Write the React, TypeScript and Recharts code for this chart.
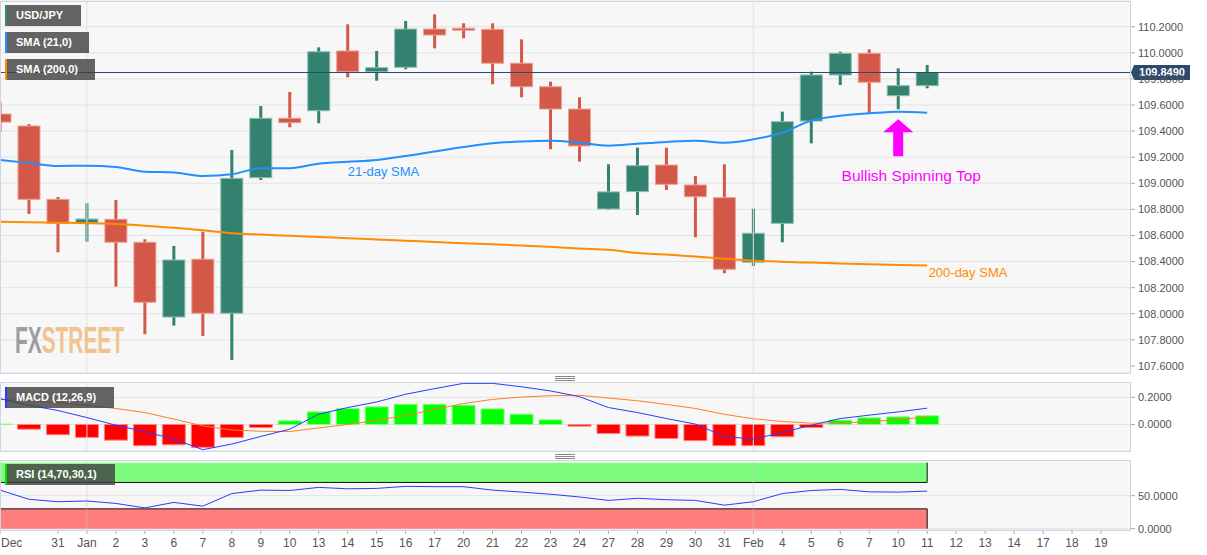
import React from 'react';
import {
  ComposedChart,
  Bar,
  Line,
  XAxis,
  YAxis,
  CartesianGrid,
  ReferenceLine,
  ReferenceDot,
  ReferenceArea,
  Cell,
} from 'recharts';

// trading days shown on the chart
const days = [
  'Dec 27', 'Dec 30', 'Dec 31', 'Jan 1', 'Jan 2', 'Jan 3', 'Jan 6', 'Jan 7', 'Jan 8', 'Jan 9', 'Jan 10',
  'Jan 13', 'Jan 14', 'Jan 15', 'Jan 16', 'Jan 17', 'Jan 20', 'Jan 21', 'Jan 22', 'Jan 23', 'Jan 24',
  'Jan 27', 'Jan 28', 'Jan 29', 'Jan 30', 'Jan 31', 'Feb 3', 'Feb 4', 'Feb 5', 'Feb 6', 'Feb 7', 'Feb 10', 'Feb 11',
];

// x-axis slot labels, including the empty future days
const slotLabels = [
  'Dec', '30', '31', 'Jan', '2', '3', '6', '7', '8', '9', '10', '13', '14', '15', '16', '17', '20', '21', '22',
  '23', '24', '27', '28', '29', '30', '31', 'Feb', '4', '5', '6', '7', '10', '11', '12', '13', '14', '17', '18', '19',
];
const shownTicks = [0, 2, 3, 4, 5, 6, 7, 8, 9, 10, 11, 12, 13, 14, 15, 16, 17, 18, 19, 20, 21, 22, 23, 24, 25, 26, 27, 28, 29, 30, 31, 32, 33, 34, 35, 36, 37, 38];

const open = [109.531, 109.439, 108.877, 108.698, 108.724, 108.548, 107.975, 108.418, 108.004, 109.043, 109.498, 109.556, 110.014, 109.855, 109.889, 110.182, 110.188, 110.18, 109.92, 109.74, 109.569, 108.803, 108.936, 109.14, 108.987, 108.89, 108.395, 108.693, 109.477, 109.83, 109.996, 109.671, 109.748];
const high = [109.623, 109.454, 108.895, 108.847, 108.872, 108.571, 108.52, 108.629, 109.255, 109.592, 109.7, 110.042, 110.218, 110.014, 110.244, 110.295, 110.226, 110.226, 110.103, 109.779, 109.659, 109.146, 109.273, 109.273, 109.056, 109.146, 108.805, 109.549, 109.855, 110.008, 110.027, 109.881, 109.907];
const low = [109.393, 108.765, 108.471, 108.552, 108.208, 107.843, 107.909, 107.83, 107.646, 109.025, 109.429, 109.46, 109.812, 109.786, 109.874, 110.034, 110.111, 109.759, 109.659, 109.261, 109.166, 108.798, 108.757, 108.949, 108.586, 108.31, 108.366, 108.548, 109.306, 109.753, 109.536, 109.567, 109.728];
const close = [109.469, 108.877, 108.693, 108.726, 108.548, 108.088, 108.412, 108.004, 109.038, 109.498, 109.464, 110.008, 109.855, 109.886, 110.182, 110.136, 110.175, 109.92, 109.74, 109.569, 109.286, 108.934, 109.135, 108.992, 108.897, 108.341, 108.617, 109.472, 109.83, 109.996, 109.774, 109.748, 109.849];

const sma21 = [109.179, 109.156, 109.133, 109.135, 109.125, 109.089, 109.083, 109.056, 109.069, 109.115, 109.115, 109.15, 109.165, 109.179, 109.209, 109.244, 109.278, 109.306, 109.32, 109.326, 109.311, 109.288, 109.303, 109.317, 109.326, 109.311, 109.337, 109.388, 109.48, 109.518, 109.536, 109.549, 109.541];
const sma200 = [108.706, 108.702, 108.698, 108.694, 108.688, 108.675, 108.66, 108.64, 108.617, 108.607, 108.598, 108.589, 108.579, 108.57, 108.56, 108.55, 108.541, 108.532, 108.523, 108.514, 108.5, 108.49, 108.466, 108.454, 108.438, 108.422, 108.407, 108.398, 108.392, 108.386, 108.38, 108.374, 108.369];

const macd = [0.19, 0.142, 0.103, 0.051, -0.005, -0.053, -0.107, -0.185, -0.144, -0.088, -0.034, 0.076, 0.125, 0.166, 0.223, 0.264, 0.303, 0.303, 0.278, 0.247, 0.205, 0.125, 0.088, 0.044, 0.003, -0.088, -0.107, -0.059, -0.005, 0.044, 0.069, 0.093, 0.12];
const signal = [0.186, 0.175, 0.162, 0.142, 0.118, 0.088, 0.04, -0.01, -0.04, -0.05, -0.052, -0.025, 0.0, 0.03, 0.068, 0.11, 0.155, 0.185, 0.202, 0.212, 0.215, 0.195, 0.175, 0.148, 0.118, 0.075, 0.042, 0.022, 0.01, 0.012, 0.02, 0.037, 0.054];
const hist = [0.003, -0.034, -0.075, -0.095, -0.115, -0.156, -0.149, -0.168, -0.095, -0.022, 0.027, 0.093, 0.117, 0.13, 0.149, 0.149, 0.142, 0.115, 0.076, 0.034, -0.012, -0.066, -0.085, -0.103, -0.119, -0.156, -0.156, -0.09, -0.022, 0.032, 0.049, 0.056, 0.064];

const rsi = [58.4, 44.5, 40.8, 41.9, 38.2, 31.5, 39.8, 34.1, 53.2, 58.4, 57.8, 62.5, 60.4, 61, 64.1, 63.6, 63.6, 58.4, 55.4, 52.2, 48, 42.8, 46, 43.9, 42.8, 35.6, 40.8, 53.2, 57.8, 59.5, 55.8, 55.4, 56.9];

const priceTicks = [107.6, 107.8, 108.0, 108.2, 108.4, 108.6, 108.8, 109.0, 109.2, 109.4, 109.6, 109.8, 110.0, 110.2];
const macdTicks = [0, 0.2];
const rsiTicks = [0, 50];

const rows = days.map((d, i) => ({
  i,
  day: d,
  open: open[i],
  high: high[i],
  low: low[i],
  close: close[i],
  sma21: sma21[i],
  sma200: sma200[i],
  macd: macd[i],
  signal: signal[i],
  hist: hist[i],
  rsi: rsi[i],
}));

const lastIdx = rows.length - 1;
const lastClose = close[lastIdx];

const W = 1207;
const AXIS_W = 77;
const X_DOMAIN: [number, number] = [0, 39];
const GREEN = '#32826f';
const RED = '#d35848';
const GRID = '#e3e3e3';
const BORDER = '#cfd5e4';
const FONT = '"Liberation Sans", Arial, sans-serif';

const Candle = (props: any) => {
  const { x, y, width, height, payload } = props;
  if (!payload || payload.open == null) return null;
  const top = Math.min(y, y + height);
  const h = Math.abs(height);
  const ratio = h / (payload.high - payload.low);
  const up = payload.close >= payload.open;
  const bodyTop = top + (payload.high - Math.max(payload.open, payload.close)) * ratio;
  const bodyH = Math.max(2, Math.abs(payload.open - payload.close) * ratio);
  const cx = x + width / 2;
  const fill = up ? GREEN : RED;
  const edge = up ? '#8fbdb1' : '#eba198';
  return (
    <g>
      <rect x={cx - 1.5} y={top} width={3} height={h} fill={fill} />
      <rect x={x + 0.5} y={bodyTop} width={width - 1} height={bodyH} fill={fill} stroke={edge} strokeWidth={1} />
    </g>
  );
};

const Note = (props: any) => {
  const { viewBox, text, color, size, anchor } = props;
  const cx = viewBox.x + viewBox.width / 2;
  const cy = viewBox.y + viewBox.height / 2;
  return (
    <text x={cx} y={cy} dy="0.35em" textAnchor={anchor} fill={color} fontSize={size} fontFamily={FONT}>
      {text}
    </text>
  );
};

const Arrow = (props: any) => {
  const { cx, cy } = props;
  const d = `M${cx},${cy} L${cx + 15},${cy + 13} L${cx + 5},${cy + 13} L${cx + 5},${cy + 37} L${cx - 5},${cy + 37} L${cx - 5},${cy + 13} L${cx - 15},${cy + 13} Z`;
  return <path d={d} fill="#ff00ff" />;
};

const PriceTag = (props: any) => {
  const { viewBox } = props;
  const x = viewBox.x + viewBox.width;
  const y = viewBox.y;
  return (
    <g>
      <path d={`M${x + 1},${y} L${x + 4},${y - 7.5} H${x + 60} V${y + 7.5} H${x + 4} Z`} fill="#2b4a6e" />
      <text x={x + 32} y={y} dy="0.36em" textAnchor="middle" fill="#fff" fontSize={11} fontWeight="bold" fontFamily={FONT}>
        {lastClose.toFixed(4)}
      </text>
    </g>
  );
};

const DayTick = (props: any) => {
  const { x, y, payload } = props;
  const first = payload.value === 0;
  return (
    <text x={first ? x + 1 : x} y={y} dy="0.71em" textAnchor={first ? 'start' : 'middle'} fill="#555" fontSize={12} fontFamily={FONT}>
      {slotLabels[payload.value]}
    </text>
  );
};

const yAxisProps = {
  orientation: 'right' as const,
  width: AXIS_W,
  axisLine: false,
  tickSize: 5,
  tickMargin: 3,
  tickLine: { stroke: '#aaa' },
  tick: { fontSize: 11, fill: '#555', fontFamily: FONT },
  allowDataOverflow: true,
};

const Tag = ({ top, width, color, text }: { top: number; width: number; color: string; text: string }) => (
  <div
    style={{
      position: 'absolute',
      left: 5,
      top,
      width,
      height: 21,
      background: 'rgba(66,66,66,0.82)',
      borderLeft: `2px solid ${color}`,
      boxSizing: 'border-box',
      color: '#fff',
      fontSize: 11,
      fontWeight: 'bold',
      lineHeight: '21px',
      paddingLeft: 9,
      whiteSpace: 'nowrap',
    }}
  >
    {text}
  </div>
);

const Frame = ({ top, height }: { top: number; height: number }) => (
  <div
    style={{
      position: 'absolute',
      left: 0,
      top,
      width: W - AXIS_W + 1,
      height,
      border: `1px solid ${BORDER}`,
      boxSizing: 'border-box',
      pointerEvents: 'none',
    }}
  />
);

const Handle = ({ top }: { top: number }) => (
  <div style={{ position: 'absolute', left: 555, top, width: 20, height: 5 }}>
    {[0, 2, 4].map((o) => (
      <div key={o} style={{ position: 'absolute', left: 0, top: o, width: 20, height: 1, background: '#888' }} />
    ))}
  </div>
);

const MainChart = () => (
  <ComposedChart width={W} height={373} data={rows} margin={{ top: 1, right: 0, bottom: 0, left: 0 }}>
    <CartesianGrid vertical={false} stroke={GRID} fill="#f7f7f7" />
    <XAxis type="number" dataKey="i" domain={X_DOMAIN} hide allowDataOverflow />
    <YAxis {...yAxisProps} domain={[107.546, 110.397]} ticks={priceTicks} tickFormatter={(v: number) => v.toFixed(4)} />
    <ReferenceLine x={3} stroke={GRID} />
    <ReferenceLine x={26} stroke={GRID} />
    <Bar dataKey={(d: any) => [d.low, d.high]} barSize={23} shape={<Candle />} isAnimationActive={false} />
    <Line type="monotone" dataKey="sma200" stroke="#ff8c00" strokeWidth={2} dot={false} isAnimationActive={false} />
    <Line type="monotone" dataKey="sma21" stroke="#1e90ff" strokeWidth={2} dot={false} isAnimationActive={false} />
    <ReferenceLine y={lastClose} stroke="#2b4a6e" strokeWidth={1} label={<PriceTag />} />
    <ReferenceDot x={12} y={109.087} r={1} fill="none" stroke="none"
      label={<Note text="21-day SMA" color="#1e90ff" size={13} anchor="start" />} />
    <ReferenceDot x={31.45} y={109.058} r={1} fill="none" stroke="none"
      label={<Note text="Bullish Spinning Top" color="#ff00ff" size={15.5} anchor="middle" />} />
    <ReferenceDot x={32.05} y={108.315} r={1} fill="none" stroke="none"
      label={<Note text="200-day SMA" color="#ff8c00" size={13} anchor="start" />} />
    <ReferenceDot x={31} y={109.49} r={1} shape={<Arrow />} />
  </ComposedChart>
);

const MacdChart = () => (
  <ComposedChart width={W} height={69} data={rows} margin={{ top: 0, right: 0, bottom: 0, left: 0 }}>
    <CartesianGrid vertical={false} stroke={GRID} fill="#f7f7f7" />
    <XAxis type="number" dataKey="i" domain={X_DOMAIN} hide allowDataOverflow />
    <YAxis {...yAxisProps} domain={[-0.195, 0.313]} ticks={macdTicks} tickFormatter={(v: number) => v.toFixed(4)} />
    <ReferenceLine x={3} stroke={GRID} />
    <ReferenceLine x={26} stroke={GRID} />
    <Bar dataKey="hist" barSize={23} isAnimationActive={false}>
      {rows.map((r) => (
        <Cell key={r.i} fill={r.hist >= 0 ? '#00ff00' : '#ff0000'} stroke={r.hist >= 0 ? '#80ff80' : '#ff8080'} />
      ))}
    </Bar>
    <Line type="linear" dataKey="signal" stroke="#ff7f27" strokeWidth={1} dot={false} isAnimationActive={false} />
    <Line type="linear" dataKey="macd" stroke="#2a3cff" strokeWidth={1} dot={false} isAnimationActive={false} />
  </ComposedChart>
);

const RsiChart = () => (
  <ComposedChart width={W} height={95} data={rows} margin={{ top: 0, right: 0, bottom: 0, left: 0 }}>
    <CartesianGrid vertical={false} stroke={GRID} fill="#f7f7f7" />
    <XAxis
      type="number"
      dataKey="i"
      domain={X_DOMAIN}
      allowDataOverflow
      ticks={shownTicks}
      interval={0}
      height={25}
      axisLine={false}
      tickSize={4}
      tickMargin={4}
      tickLine={{ stroke: '#aaa' }}
      tick={<DayTick />}
    />
    <YAxis {...yAxisProps} domain={[-2, 104]} ticks={rsiTicks} tickFormatter={(v: number) => v.toFixed(4)} />
    <ReferenceArea x1={0} x2={lastIdx} y1={70} y2={100} fill="#7dfc7d" fillOpacity={1} stroke="none" />
    <ReferenceArea x1={0} x2={lastIdx} y1={0} y2={30} fill="#ff7d7d" fillOpacity={1} stroke="none" />
    <ReferenceLine segment={[{ x: 0, y: 70 }, { x: lastIdx, y: 70 }]} stroke="#111" />
    <ReferenceLine segment={[{ x: 0, y: 30 }, { x: lastIdx, y: 30 }]} stroke="#111" />
    <ReferenceLine segment={[{ x: lastIdx, y: 70 }, { x: lastIdx, y: 100 }]} stroke="#111" />
    <ReferenceLine segment={[{ x: lastIdx, y: 0 }, { x: lastIdx, y: 30 }]} stroke="#111" />
    <ReferenceLine x={3} stroke="rgba(200,200,200,0.5)" />
    <ReferenceLine x={26} stroke="rgba(200,200,200,0.5)" />
    <Line type="linear" dataKey="rsi" stroke="#2a3cff" strokeWidth={1} dot={false} isAnimationActive={false} />
  </ComposedChart>
);

export default function App() {
  return (
    <div style={{ position: 'absolute', left: 0, top: 0, width: W, height: 555, background: '#fff', fontFamily: FONT, overflow: 'hidden' }}>
      <div style={{ position: 'absolute', left: 0, top: 0 }}>
        <MainChart />
      </div>
      <div style={{ position: 'absolute', left: 0, top: 382 }}>
        <MacdChart />
      </div>
      <div style={{ position: 'absolute', left: 0, top: 460 }}>
        <RsiChart />
      </div>
      <Frame top={1} height={373} />
      <Frame top={382} height={70} />
      <Frame top={460} height={71} />
      <Handle top={376} />
      <Handle top={454} />
      <svg style={{ position: 'absolute', left: 0, top: 310, pointerEvents: 'none' }} width={260} height={50}>
        <text x={15} y={43} fontSize={37} fontWeight="bold" textLength={109} lengthAdjust="spacingAndGlyphs" fontFamily={FONT}>
          <tspan fill="#9c9da3">FX</tspan>
          <tspan fill="#f1c38f">STREET</tspan>
        </text>
      </svg>
      <Tag top={5} width={76} color="#2e8b6f" text="USD/JPY" />
      <Tag top={32} width={84} color="#1e90ff" text="SMA (21,0)" />
      <Tag top={59} width={90} color="#ff8c00" text="SMA (200,0)" />
      <Tag top={387} width={109} color="#2a3cff" text="MACD (12,26,9)" />
      <Tag top={464} width={110} color="#00e000" text="RSI (14,70,30,1)" />
    </div>
  );
}
